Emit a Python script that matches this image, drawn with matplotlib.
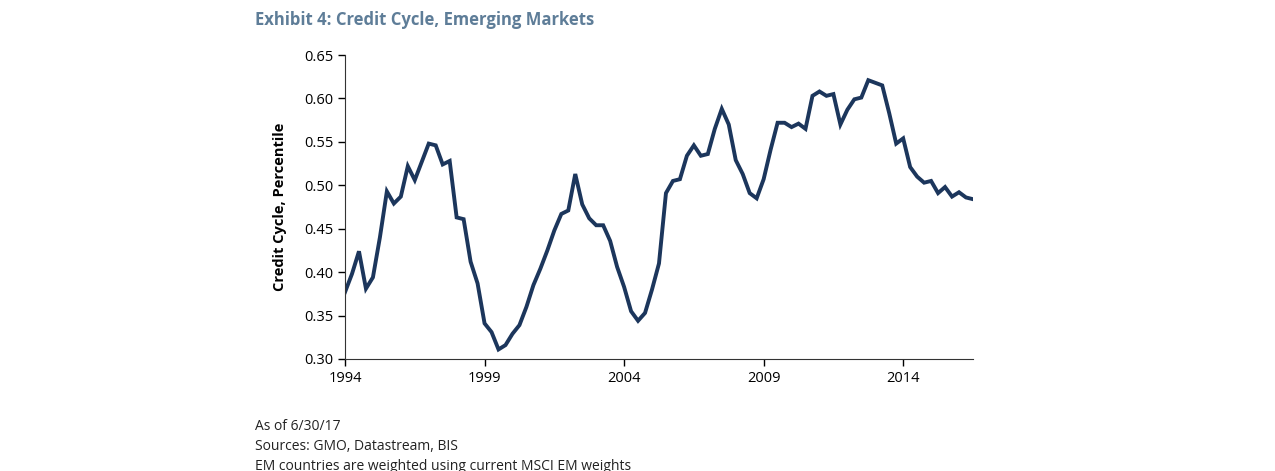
import numpy as np
import matplotlib.pyplot as plt

# quarterly credit cycle values, starting Q1 1994
start_year = 1994.0
credit_cycle = [
    0.377, 0.398, 0.424, 0.381, 0.394, 0.440, 0.493, 0.479, 0.487, 0.522,
    0.506, 0.527, 0.548, 0.546, 0.524, 0.528, 0.463, 0.461, 0.412, 0.387,
    0.341, 0.331, 0.311, 0.316, 0.329, 0.339, 0.360, 0.385, 0.404, 0.425,
    0.448, 0.467, 0.471, 0.513, 0.478, 0.462, 0.454, 0.454, 0.436, 0.406,
    0.383, 0.355, 0.344, 0.353, 0.380, 0.410, 0.491, 0.505, 0.507, 0.534,
    0.546, 0.534, 0.536, 0.565, 0.588, 0.570, 0.529, 0.513, 0.491, 0.485,
    0.507, 0.541, 0.572, 0.572, 0.567, 0.571, 0.565, 0.603, 0.608, 0.603,
    0.605, 0.570, 0.587, 0.599, 0.601, 0.621, 0.618, 0.615, 0.583, 0.548,
    0.554, 0.521, 0.510, 0.503, 0.505, 0.491, 0.498, 0.487, 0.492, 0.486,
    0.484,
]
year_ticks = [1994, 1999, 2004, 2009, 2014]
y_ticks = [0.30, 0.35, 0.40, 0.45, 0.50, 0.55, 0.60, 0.65]

plt.rcParams['font.family'] = ['Open Sans', 'DejaVu Sans']

years = start_year + np.arange(len(credit_cycle)) * 0.25

fig = plt.figure(figsize=(12.75, 4.71), dpi=100)
ax = fig.add_axes([0.2706, 0.2378, 0.4925, 0.6454])
ax.plot(years, credit_cycle, color='#1c365c', lw=2.8, solid_joinstyle='miter')

ax.set_xlim(start_year, years[-1])
ax.set_ylim(0.30, 0.65)
ax.set_xticks(year_ticks)
ax.set_yticks(y_ticks)
ax.set_yticklabels([f'{v:.2f}' for v in y_ticks])
ax.tick_params(labelsize=10.5, direction='out', length=5, width=1, colors='black')
for s in ['top', 'right']:
    ax.spines[s].set_visible(False)
for s in ['left', 'bottom']:
    ax.spines[s].set_color('#333333')
ax.set_ylabel('Credit Cycle, Percentile', fontsize=10.5, fontweight='bold', labelpad=12)

fig.text(0.2, 0.957, 'Exhibit 4: Credit Cycle, Emerging Markets', fontsize=12,
         fontweight='bold', color='#5e7d98', va='center')
notes = ['As of 6/30/17', 'Sources: GMO, Datastream, BIS',
         'EM countries are weighted using current MSCI EM weights']
for i, t in enumerate(notes):
    fig.text(0.2, 1 - (427 + i * 20) / 471, t, fontsize=10, color='#222222', va='center')

fig.savefig('out.png', dpi=100)
